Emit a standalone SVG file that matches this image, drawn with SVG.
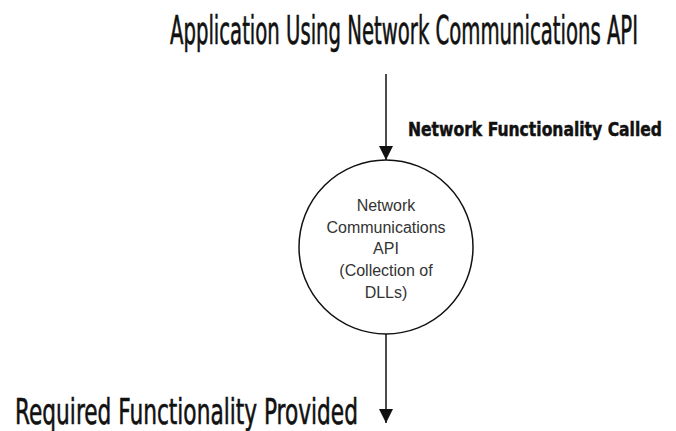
<svg xmlns="http://www.w3.org/2000/svg" width="676" height="431" viewBox="0 0 676 431">
  <style>
    .hand { font-family: "DejaVu Sans", "Liberation Sans", sans-serif; font-stretch: condensed; fill: #111; stroke: #111; stroke-width: 0.35; }
    .inner { font-family: "Liberation Sans", Arial, sans-serif; font-size: 16px; fill: #333; text-anchor: middle; }
    .edge { stroke: #111; stroke-width: 1.5; fill: none; }
  </style>
  <defs>
    <marker id="arrow" viewBox="0 0 14 14" refX="14" refY="7" markerWidth="14" markerHeight="14" markerUnits="userSpaceOnUse" orient="auto">
      <path d="M0,0 L14,7 L0,14 Z" fill="#111"/>
    </marker>
  </defs>
  <rect width="676" height="431" fill="#fff"/>

  <!-- tall, narrow lettering: small font stretched vertically -->
  <g id="app">
    <text class="hand" transform="translate(170,44) scale(1,1.75)" x="0" y="0" font-size="22" textLength="468" lengthAdjust="spacingAndGlyphs">Application Using Network Communications API</text>
  </g>

  <g id="api">
    <ellipse cx="386" cy="247" rx="87" ry="87" fill="#fff" stroke="#111" stroke-width="1.5"/>
    <text class="inner" x="386" y="211">Network</text>
    <text class="inner" x="386" y="233">Communications</text>
    <text class="inner" x="386" y="254">API</text>
    <text class="inner" x="386" y="276">(Collection of</text>
    <text class="inner" x="386" y="298">DLLs)</text>
  </g>

  <g id="result">
    <text class="hand" transform="translate(15,424) scale(1,1.6)" x="0" y="0" font-size="22" textLength="343" lengthAdjust="spacingAndGlyphs">Required Functionality Provided</text>
  </g>

  <g id="connectors">
    <line class="edge" x1="386" y1="74" x2="386" y2="160" marker-end="url(#arrow)"/>
    <text class="hand" transform="translate(408,136) scale(1,1.27)" x="0" y="0" font-size="15" font-weight="bold" textLength="254" lengthAdjust="spacingAndGlyphs">Network Functionality Called</text>
    <line class="edge" x1="386" y1="334" x2="386" y2="423" marker-end="url(#arrow)"/>
  </g>
</svg>
